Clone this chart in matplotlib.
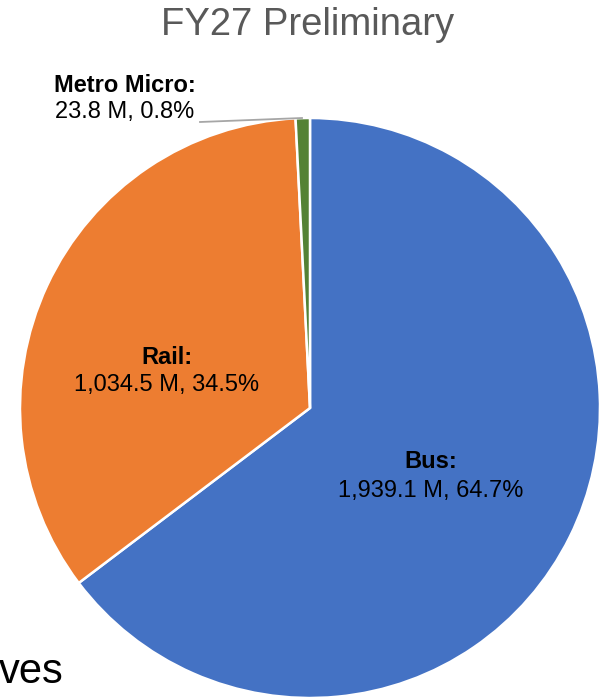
import matplotlib
matplotlib.use("Agg")
import matplotlib.pyplot as plt

categories = ["Bus", "Rail", "Metro Micro"]
values = [1939.1, 1034.5, 23.8]
percents = [64.7, 34.5, 0.8]
colors = ["#4472C4", "#ED7D31", "#548235"]
title = "FY27 Preliminary"

plt.rcParams['font.family'] = ['Liberation Sans', 'DejaVu Sans']

W, H = 602, 699
fig = plt.figure(figsize=(W / 100, H / 100), dpi=100)
ax = fig.add_axes([0, 0, 1, 1])

cx, cy, r = 310, H - 408, 290
ax.pie(values, colors=colors, startangle=90, counterclock=False,
       center=(cx, cy), radius=r, frame=True,
       wedgeprops=dict(edgecolor="white", linewidth=1.8))
ax.set_xlim(0, W)
ax.set_ylim(0, H)
ax.set_aspect("equal")
ax.axis("off")

def fmt(v):
    return f"{v:,.1f} M"

fs = 17
# Bus
ax.text(431, H - 462, f"{categories[0]}:", ha="center", va="center", fontsize=fs, fontweight="bold")
ax.text(431, H - 491, f"{fmt(values[0])}, {percents[0]}%", ha="center", va="center", fontsize=fs)
# Rail
ax.text(167, H - 357, f"{categories[1]}:", ha="center", va="center", fontsize=fs, fontweight="bold")
ax.text(167, H - 385, f"{fmt(values[1])}, {percents[1]}%", ha="center", va="center", fontsize=fs)
# Metro Micro
ax.text(125, H - 86, f"{categories[2]}:", ha="center", va="center", fontsize=fs, fontweight="bold")
ax.text(125, H - 112, f"{fmt(values[2])}, {percents[2]}%", ha="center", va="center", fontsize=fs)
ax.plot([200, 302], [H - 122, H - 118], color="#A6A6A6", linewidth=1.3)

ax.text(308, H - 25, title, ha="center", va="center", fontsize=27.5, color="#595959")
ax.text(-1, H - 683, "ves", ha="left", va="baseline", fontsize=30, color="black")

fig.savefig("out.png", dpi=100)
